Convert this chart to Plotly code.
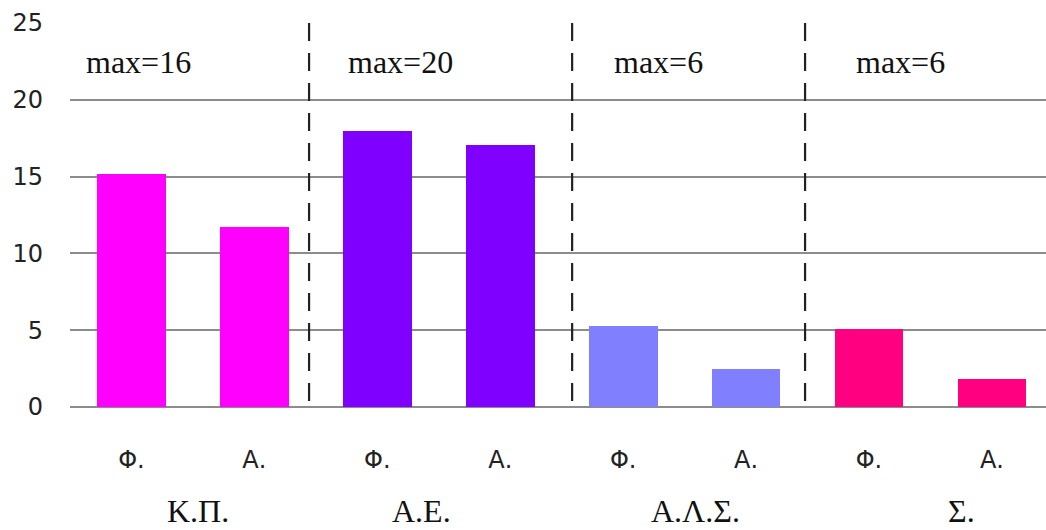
import plotly.graph_objects as go

# Scores per category: Φ. and Α. bars for each group
groups = ["Κ.Π.", "Α.Ε.", "Α.Λ.Σ.", "Σ."]
subgroups = ["Φ.", "Α."]
max_labels = ["max=16", "max=20", "max=6", "max=6"]
values = [15.2, 11.7, 18.0, 17.05, 5.25, 2.45, 5.05, 1.8]
group_colors = ["#FF00FF", "#8000FF", "#8080FF", "#FF0080"]
y_ticks = [0, 5, 10, 15, 20, 25]

x_pos = list(range(len(values)))
bar_colors = [group_colors[i // 2] for i in x_pos]
tick_text = [subgroups[i % 2] for i in x_pos]

fig = go.Figure()
fig.add_trace(go.Bar(
    x=x_pos, y=values, width=0.56,
    marker=dict(color=bar_colors, line=dict(width=0)),
    hoverinfo="skip",
))

# dashed separators between groups
sep_x = [1.445, 3.585, 5.48]
for sx in sep_x:
    fig.add_shape(type="line", xref="x", yref="y", x0=sx, x1=sx, y0=25, y1=-0.3,
                  line=dict(color="#222222", width=2.2, dash="18px,12px"), layer="above")

# "max=" notes at top of each group
max_x = [0.06, 2.19, 4.29, 6.26]
for lbl, mx in zip(max_labels, max_x):
    fig.add_annotation(x=mx, y=22.45, xref="x", yref="y", text=lbl, showarrow=False,
                       font=dict(family="Liberation Serif", size=32, color="#111111"))

# group names below the sub-labels
grp_x = [0.54, 2.36, 4.585, 6.75]
for g, gx in zip(groups, grp_x):
    fig.add_annotation(x=gx, y=-0.322, xref="x", yref="paper", text=g, showarrow=False,
                       font=dict(family="Liberation Serif", size=32, color="#111111"))

fig.update_layout(
    width=1046, height=530,
    margin=dict(l=70, r=0, t=23, b=123),
    plot_bgcolor="white", paper_bgcolor="white",
    showlegend=False,
    bargap=0,
    xaxis=dict(
        range=[-0.5, 7.44], tickmode="array", tickvals=x_pos, ticktext=tick_text,
        showgrid=False, zeroline=False, showline=False, ticks="",
        ticklabelstandoff=36,
        tickfont=dict(family="DejaVu Sans", size=24, color="#222222"),
        fixedrange=True,
    ),
    yaxis=dict(
        range=[0, 25], tickmode="array", tickvals=y_ticks,
        showgrid=True, gridcolor="#8c8c8c", gridwidth=2,
        zeroline=True, zerolinecolor="#8c8c8c", zerolinewidth=2,
        showline=False, ticks="",
        ticklabelstandoff=26,
        tickfont=dict(family="DejaVu Sans", size=24, color="#222222"),
        fixedrange=True,
    ),
)

fig.write_html("out.html")
